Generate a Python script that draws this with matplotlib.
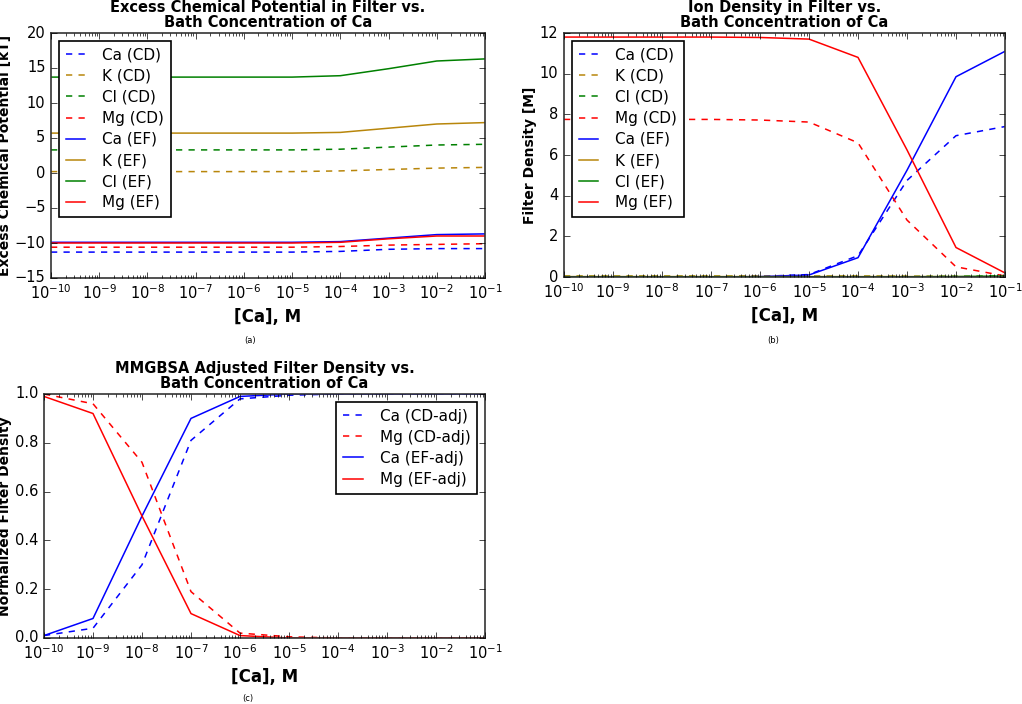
import matplotlib
matplotlib.use("Agg")
import matplotlib.pyplot as plt

plt.style.use("classic")
plt.rcParams["font.family"] = ["DejaVu Sans"]
plt.rcParams["lines.dashed_pattern"] = [4.5, 4.5]
plt.rcParams["lines.linewidth"] = 1.1

# bath concentration of Ca [M]
conc = [1e-10, 1e-9, 1e-8, 1e-7, 1e-6, 1e-5, 1e-4, 1e-3, 1e-2, 1e-1]

# (a) excess chemical potential [kT]
mu_ca_cd = [-11.3, -11.3, -11.3, -11.3, -11.3, -11.3, -11.2, -10.9, -10.8, -10.8]
mu_k_cd = [0.2, 0.2, 0.2, 0.2, 0.2, 0.2, 0.3, 0.5, 0.7, 0.8]
mu_cl_cd = [3.3, 3.3, 3.3, 3.3, 3.3, 3.3, 3.4, 3.7, 4.0, 4.1]
mu_mg_cd = [-10.6, -10.6, -10.6, -10.6, -10.6, -10.6, -10.5, -10.3, -10.2, -10.1]
mu_ca_ef = [-9.9, -9.9, -9.9, -9.9, -9.9, -9.9, -9.8, -9.3, -8.8, -8.7]
mu_k_ef = [5.7, 5.7, 5.7, 5.7, 5.7, 5.7, 5.8, 6.4, 7.0, 7.2]
mu_cl_ef = [13.7, 13.7, 13.7, 13.7, 13.7, 13.7, 13.9, 14.9, 16.0, 16.3]
mu_mg_ef = [-10.0, -10.0, -10.0, -10.0, -10.0, -10.0, -9.9, -9.4, -9.0, -9.0]

# (b) filter density [M]
rho_ca_cd = [0.0, 0.0, 0.0, 0.0, 0.03, 0.12, 1.05, 4.75, 6.95, 7.4]
rho_k_cd = [0.05, 0.05, 0.05, 0.05, 0.05, 0.05, 0.05, 0.04, 0.03, 0.02]
rho_cl_cd = [0.02, 0.02, 0.02, 0.02, 0.02, 0.02, 0.02, 0.02, 0.03, 0.05]
rho_mg_cd = [7.75, 7.75, 7.75, 7.75, 7.72, 7.62, 6.6, 2.8, 0.5, 0.05]
rho_ca_ef = [0.0, 0.0, 0.0, 0.0, 0.02, 0.1, 0.95, 5.25, 9.85, 11.1]
rho_k_ef = [0.02, 0.02, 0.02, 0.02, 0.02, 0.02, 0.02, 0.02, 0.02, 0.01]
rho_cl_ef = [0.01, 0.01, 0.01, 0.01, 0.01, 0.01, 0.01, 0.01, 0.02, 0.05]
rho_mg_ef = [11.8, 11.8, 11.8, 11.8, 11.78, 11.7, 10.8, 6.25, 1.45, 0.2]

# (c) MMGBSA adjusted, normalized
adj_ca_cd = [0.01, 0.04, 0.3, 0.81, 0.98, 0.995, 1.0, 1.0, 1.0, 1.0]
adj_mg_cd = [1.0, 0.96, 0.72, 0.19, 0.02, 0.005, 0.0, 0.0, 0.0, 0.0]
adj_ca_ef = [0.01, 0.08, 0.5, 0.9, 0.99, 1.0, 1.0, 1.0, 1.0, 1.0]
adj_mg_ef = [0.99, 0.92, 0.5, 0.1, 0.01, 0.0, 0.0, 0.0, 0.0, 0.0]

GOLD = "#b8860b"
W, H = 1022, 704


def add_axes(fig, left, top, right, bottom):
    return fig.add_axes([left / W, 1 - bottom / H, (right - left) / W, (bottom - top) / H])


def style_ax(ax, ylabel, title):
    ax.set_xscale("log")
    ax.set_xlim(1e-10, 1e-1)
    ax.set_xlabel("[Ca], M", fontsize=12, fontweight="bold", labelpad=4)
    ax.set_ylabel(ylabel, fontsize=10, fontweight="bold", labelpad=2)
    ax.set_title(title, fontsize=10.5, fontweight="bold", linespacing=1.0, pad=4)
    ax.tick_params(labelsize=10.5)
    for sp in ax.spines.values():
        sp.set_linewidth(1.2)
        sp.set_color("#333333")


def legend(ax, loc):
    leg = ax.legend(loc=loc, fontsize=11, numpoints=1, handlelength=1.3,
                    handletextpad=1.1, labelspacing=0.4, borderpad=0.45)
    leg.get_frame().set_linewidth(1.2)


fig = plt.figure(figsize=(W / 100, H / 100), dpi=100)
fig.patch.set_facecolor("white")

# (a)
ax = add_axes(fig, 51, 33, 485, 278)
ax.plot(conc, mu_ca_cd, "b--", label="Ca (CD)")
ax.plot(conc, mu_k_cd, "--", color=GOLD, label="K (CD)")
ax.plot(conc, mu_cl_cd, "g--", label="Cl (CD)")
ax.plot(conc, mu_mg_cd, "r--", label="Mg (CD)")
ax.plot(conc, mu_ca_ef, "b-", label="Ca (EF)")
ax.plot(conc, mu_k_ef, "-", color=GOLD, label="K (EF)")
ax.plot(conc, mu_cl_ef, "g-", label="Cl (EF)")
ax.plot(conc, mu_mg_ef, "r-", label="Mg (EF)")
ax.set_ylim(-15, 20)
style_ax(ax, "Excess Chemical Potential [kT]",
         "Excess Chemical Potential in Filter vs.\nBath Concentration of Ca")
legend(ax, "upper left")
fig.text(250 / W, 1 - 340 / H, "(a)", fontsize=6, ha="center", va="center")

# (b)
ax = add_axes(fig, 564, 33, 1005, 277)
ax.plot(conc, rho_ca_cd, "b--", label="Ca (CD)")
ax.plot(conc, rho_k_cd, "--", color=GOLD, label="K (CD)")
ax.plot(conc, rho_cl_cd, "g--", label="Cl (CD)")
ax.plot(conc, rho_mg_cd, "r--", label="Mg (CD)")
ax.plot(conc, rho_ca_ef, "b-", label="Ca (EF)")
ax.plot(conc, rho_k_ef, "-", color=GOLD, label="K (EF)")
ax.plot(conc, rho_cl_ef, "g-", label="Cl (EF)")
ax.plot(conc, rho_mg_ef, "r-", label="Mg (EF)")
ax.set_ylim(0, 12)
style_ax(ax, "Filter Density [M]",
         "Ion Density in Filter vs.\nBath Concentration of Ca")
legend(ax, "upper left")
fig.text(773 / W, 1 - 340 / H, "(b)", fontsize=6, ha="center", va="center")

# (c)
ax = add_axes(fig, 44, 394, 485, 638)
ax.plot(conc, adj_ca_cd, "b--", label="Ca (CD-adj)")
ax.plot(conc, adj_mg_cd, "r--", label="Mg (CD-adj)")
ax.plot(conc, adj_ca_ef, "b-", label="Ca (EF-adj)")
ax.plot(conc, adj_mg_ef, "r-", label="Mg (EF-adj)")
ax.set_ylim(0, 1)
style_ax(ax, "Normalized Filter Density",
         "MMGBSA Adjusted Filter Density vs.\nBath Concentration of Ca")
legend(ax, "upper right")
fig.text(248 / W, 1 - 699 / H, "(c)", fontsize=6, ha="center", va="center")

fig.savefig("out.png", dpi=100, facecolor="white")
